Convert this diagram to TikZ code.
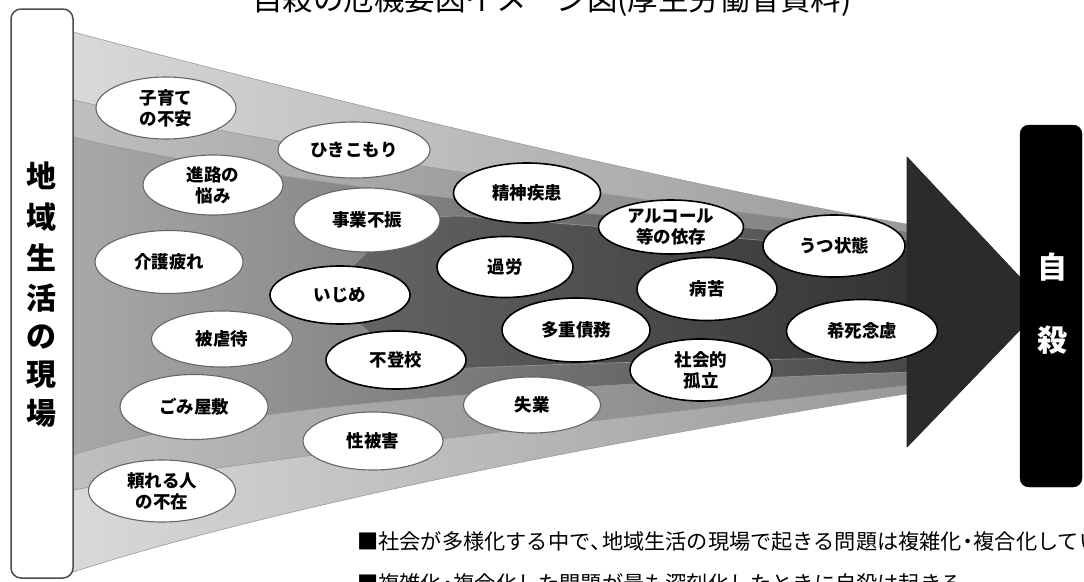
\documentclass[tikz,border=0pt]{standalone}
\usepackage{fontspec}
\newfontfamily\jp{Noto Sans CJK JP}
\usetikzlibrary{shapes.geometric}
\newcommand{\myfs}[2]{\fontsize{#1}{#2}\selectfont}
\newcommand{\hwl}[1]{\makebox[0.55em][l]{#1}}
\newcommand{\hwc}[1]{\makebox[0.55em][c]{#1}}
\definecolor{bzl}{gray}{0.85}
\definecolor{bzr}{gray}{0.60}
\definecolor{bol}{gray}{0.75}
\definecolor{bor}{gray}{0.48}
\definecolor{mil}{gray}{0.66}
\definecolor{mir}{gray}{0.28}
\definecolor{col}{gray}{0.40}
\definecolor{cor}{gray}{0.20}
\definecolor{ahc}{gray}{0.17}
\begin{document}
\begin{tikzpicture}[x=1pt,y=-1pt,line join=round,
  band/.style={draw=black!40, line width=0.6pt},
  iss/.style={ellipse, fill=white, draw=black!60, line width=1.1pt, inner sep=0pt,
     align=center, font=\jp\bfseries\myfs{17.5}{21}},
  issk/.style={iss, draw=black, line width=1.6pt},
  side/.style={font=\jp\bfseries\myfs{30}{30}, inner sep=0pt},
  note/.style={anchor=base west, inner sep=0pt, font=\jp\myfs{21.2}{21.2}}]
\useasboundingbox (0,0) rectangle (1084,581);
% funnel bands
\shadedraw[band, left color=bzl, right color=bzr]
  (73,32) .. controls (300,92) and (650,180) .. (912,225) -- (912,393)
  .. controls (550,450) and (250,515) .. (73,572) -- cycle;
\shadedraw[band, left color=bol, right color=bor]
  (73,100) .. controls (250,140) and (600,200) .. (912,232) -- (912,385)
  .. controls (550,425) and (250,460) .. (73,490) -- cycle;
\shadedraw[band, left color=mil, right color=mir]
  (73,137) .. controls (250,180) and (600,220) .. (912,240) -- (912,372)
  .. controls (400,390) and (200,415) .. (73,455) -- cycle;
\shadedraw[band, left color=col, right color=cor]
  (330,292) .. controls (380,232) and (410,216) .. (460,216)
  .. controls (600,225) and (800,246) .. (912,250) -- (912,358)
  .. controls (800,358) and (600,362) .. (470,368)
  .. controls (420,370) and (380,352) .. (330,292) -- cycle;
% arrow head
\filldraw[fill=ahc, draw=black!85, line width=0.8pt] (907,157) -- (1045,304) -- (907,447) -- cycle;
% issues
\node[iss, minimum width=140pt, minimum height=62pt] (kosodate) at (166,108) {子育て\\の不安};
\node[iss, minimum width=152pt, minimum height=56pt] (hikikomori) at (354,150) {ひきこもり};
\node[iss, minimum width=140pt, minimum height=60pt] (shinro) at (213,185) {進路の\\悩み};
\node[iss, minimum width=146pt, minimum height=64pt] (jigyo) at (367,220) {事業不振};
\node[issk, minimum width=147pt, minimum height=60pt] (seishin) at (527,193) {精神疾患};
\node[issk, minimum width=145pt, minimum height=54pt] (alcohol) at (671,227) {アルコール\\等の依存};
\node[issk, minimum width=142pt, minimum height=62pt] (utsu) at (834,246) {うつ状態};
\node[iss, minimum width=148pt, minimum height=63pt] (kaigo) at (169,262) {介護疲れ};
\node[issk, minimum width=140pt, minimum height=58pt] (ijime) at (340,295) {いじめ};
\node[issk, minimum width=136pt, minimum height=61pt] (karou) at (505,267) {過労};
\node[issk, minimum width=140pt, minimum height=63pt] (byouku) at (707,289) {病苦};
\node[iss, minimum width=141pt, minimum height=56pt] (gyakutai) at (222,339) {被虐待};
\node[issk, minimum width=148pt, minimum height=64pt] (saimu) at (576,330) {多重債務};
\node[issk, minimum width=151pt, minimum height=63pt] (kishi) at (862,331) {希死念慮};
\node[issk, minimum width=140pt, minimum height=58pt] (futoukou) at (396,360) {不登校};
\node[issk, minimum width=142pt, minimum height=62pt] (koritsu) at (701,370) {社会的\\孤立};
\node[iss, minimum width=148pt, minimum height=65pt] (gomi) at (194,407) {ごみ屋敷};
\node[iss, minimum width=137pt, minimum height=56pt] (shitsugyo) at (532,405) {失業};
\node[iss, minimum width=140pt, minimum height=58pt] (seihigai) at (373,441) {性被害};
\node[iss, minimum width=147pt, minimum height=62pt] (tayoreru) at (162,491) {頼れる人\\の不在};
% left box
\draw[fill=white, draw=black!70, line width=1.5pt, rounded corners=10pt] (11,9) rectangle (73,578);
\node[side] (c1) at (42,176) {地};
\node[side] (c2) at (42,217) {域};
\node[side] (c3) at (42,258) {生};
\node[side] (c4) at (42,298) {活};
\node[side] (c5) at (42,337) {の};
\node[side] (c6) at (42,375) {現};
\node[side] (c7) at (42,413) {場};
% right box
\draw[fill=black, rounded corners=9pt] (1020,125) rectangle (1082,487);
\node[side, text=white] (s1) at (1052,267) {自};
\node[side, text=white] (s2) at (1052,340) {殺};
% title and notes
\node[anchor=base, inner sep=0pt, font=\jp\myfs{30.5}{30.5}] (title) at (552,10) {自殺の危機要因イメージ図(厚生労働省資料)};
\node[note] (note1) at (357,549) {■社会が多様化する中で\hwl{、}地域生活の現場で起きる問題は複雑化\hwc{・}複合化している。};
\node[note] (note2) at (357,591) {■複雑化\hwc{・}複合化した問題が最も深刻化したときに自殺は起きる。};
\end{tikzpicture}
\end{document}
